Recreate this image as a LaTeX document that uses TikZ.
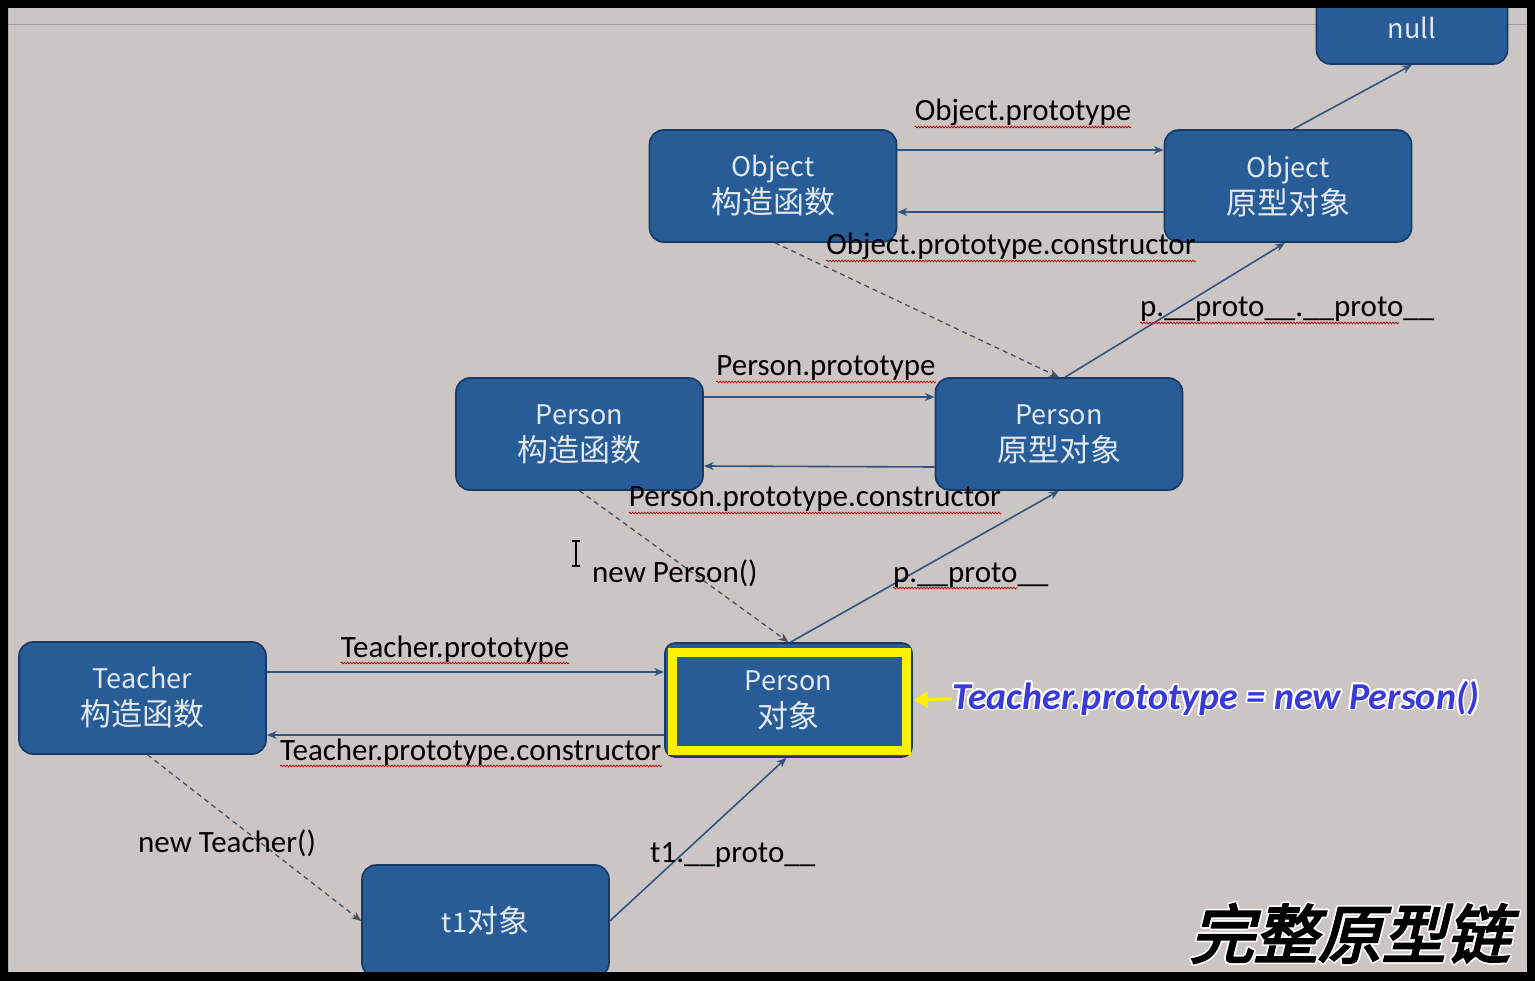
\documentclass[tikz,border=0pt]{standalone}
\usepackage{fontspec}
\setmainfont{Carlito}
\newfontfamily\cjk{Noto Sans CJK SC}
\newfontfamily\titlefont[FakeSlant=0.25,FakeBold=3.5]{Noto Sans CJK SC}
\usepackage{contour}
\contourlength{1.6pt}
\usetikzlibrary{arrows.meta,decorations.pathmorphing,calc}
\definecolor{bgc}{RGB}{203,198,196}
\definecolor{boxfill}{RGB}{40,92,150}
\definecolor{boxline}{RGB}{24,56,102}
\definecolor{boxtext}{RGB}{226,232,240}
\definecolor{linkc}{RGB}{48,84,130}
\definecolor{dashc}{RGB}{70,80,100}
\definecolor{bluec}{RGB}{58,58,215}
\definecolor{yel}{RGB}{250,240,0}
\tikzset{
  box/.style={draw=boxline, line width=1.6pt, fill=boxfill, rounded corners=14pt,
    minimum width=247pt, minimum height=112pt, text=boxtext, align=center, inner sep=0pt,
    font=\cjk\fontsize{27}{37}\selectfont},
  link/.style={draw=linkc, line width=1.6pt, -{Stealth[length=10pt,width=8pt]}},
  dlink/.style={draw=dashc, line width=1.3pt, dash pattern=on 5pt off 4pt, -{Stealth[length=10pt,width=8pt]}},
  lbl/.style={font=\fontsize{31}{34}\selectfont, text=black, inner sep=0pt, anchor=base},
  wavy/.style={draw=red!75!black, line width=0.7pt, decorate,
    decoration={snake, amplitude=0.9pt, segment length=3pt}},
}
\newcommand{\zh}[1]{{\fontsize{31}{37}\selectfont #1}}
\begin{document}
\begin{tikzpicture}[x=1pt,y=-1pt]
\useasboundingbox (0,0) rectangle (1535,981);
\fill[bgc] (0,0) rectangle (1535,981);
\draw[gray!75, line width=1pt] (8,25) -- (1527,25);

% nodes
\node[box, minimum width=191pt, minimum height=72pt] (nul) at (1412,28) {null};
\node[box] (oc) at (773,186) {Object\\\zh{构造函数}};
\node[box] (op) at (1288,186) {Object\\\zh{原型对象}};
\node[box] (pc) at (579.5,434) {Person\\\zh{构造函数}};
\node[box] (pp) at (1059,434) {Person\\\zh{原型对象}};
\node[box] (tc) at (142.5,698) {Teacher\\\zh{构造函数}};
\node[box, rounded corners=10pt, minimum height=114pt] (po) at (788.5,700) {Person\\\zh{对象}};
\draw[yel, line width=9pt] (672.5,652) rectangle (906.5,750);
\node[box] (t1) at (485.5,921) {t1\zh{对象}};

% horizontal connectors
\draw[link] ([yshift=36pt]oc.east) -- ([yshift=36pt]op.west);
\draw[link] ([yshift=-26pt]op.west) -- ([yshift=-26pt]oc.east);
\draw[link] ([yshift=37pt]pc.east) -- ([yshift=37pt]pp.west);
\draw[link] ([yshift=-33pt]pp.west) -- ([yshift=-32pt]pc.east);
\draw[link] ([yshift=26pt]tc.east) -- ([yshift=28pt]po.west);
\draw[link] ([yshift=-35pt]po.west) -- ([yshift=-37pt]tc.east);

% diagonal connectors
\draw[link] ([xshift=5pt]op.north) -- (nul.south);
\draw[dlink] ([xshift=2pt]oc.south) -- (pp.north);
\draw[link] ([xshift=6pt]pp.north) -- ([xshift=-3pt]op.south);
\draw[dlink] (pc.south) -- (po.north);
\draw[link] ([xshift=2pt]po.north) -- (pp.south);
\draw[dlink] ([xshift=5pt]tc.south) -- (t1.west);
\draw[link] (t1.east) -- ([xshift=-2pt]po.south);

% labels
\node[lbl] (l1) at (1023,121) {Object.prototype};
\node[lbl] (l2) at (1011,255) {Object.prototype.constructor};
\node[lbl, anchor=base west] (l3) at (1140,317) {p.\_\_proto\_\_.\_\_proto\_\_};
\node[lbl] (l4) at (826,376) {Person.prototype};
\node[lbl] (l5) at (815,507) {Person.prototype.constructor};
\node[lbl, anchor=base west] (l6) at (592,582) {new Person()};
\node[lbl, anchor=base west] (l7) at (893,582) {p.\_\_proto\_\_};
\node[lbl] (l8) at (455,657) {Teacher.prototype};
\node[lbl, anchor=base west] (l9) at (280,760) {Teacher.prototype.constructor};
\node[lbl, anchor=base west] (l10) at (138,852) {new Teacher()};
\node[lbl, anchor=base west] (l11) at (650,862) {t1.\_\_proto\_\_};

\foreach \l in {l1,l2,l4,l5,l8,l9}
  \draw[wavy] ([yshift=-6pt]\l.base west) -- ([yshift=-6pt]\l.base east);
\draw[wavy] ([yshift=-6pt]l3.base west) -- ($([yshift=-6pt]l3.base west)!0.88!([yshift=-6pt]l3.base east)$);
\draw[wavy] ([yshift=-6pt]l7.base west) -- ($([yshift=-6pt]l7.base west)!0.8!([yshift=-6pt]l7.base east)$);

% text cursor
\draw[black, line width=1.5pt] (576,542) -- (576,565);
\draw[black, line width=1.2pt] (572,541) -- (580,541) (572,566) -- (580,566);

% highlight annotation
\node[anchor=base west, inner sep=0pt, text=bluec,
  font=\fontsize{38}{40}\selectfont\bfseries\itshape] (note) at (952,709)
  {\contour{white}{Teacher.prototype = new Person()}};
\draw[yel, line width=3pt, -{Triangle[length=14pt,width=16pt]}] (note.west) -- ([xshift=1pt]po.east);

\node[anchor=base east, inner sep=0pt, text=black, font=\titlefont\fontsize{64}{66}\selectfont] (title) at (1510,958)
  {\contour{white}{完整原型链}};

% outer frame
\fill[black, even odd rule] (0,0) rectangle (1535,981) (8,8) rectangle (1527,972);
\end{tikzpicture}
\end{document}
